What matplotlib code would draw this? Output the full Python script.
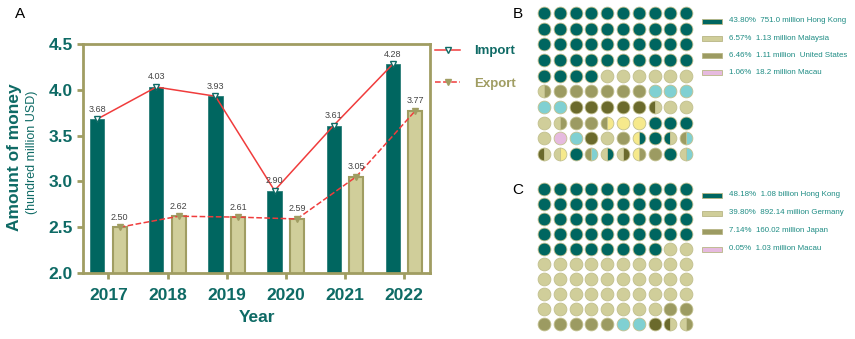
import matplotlib
matplotlib.use("Agg")
import matplotlib.pyplot as plt
import numpy as np
from matplotlib.patches import Rectangle

plt.rcParams["font.family"] = ["Liberation Sans", "DejaVu Sans"]

# data
years = ["2017", "2018", "2019", "2020", "2021", "2022"]
imports = [3.68, 4.03, 3.93, 2.90, 3.61, 4.28]
exports = [2.50, 2.62, 2.61, 2.59, 3.05, 3.77]

# waffle grids: one code per circle, "A|B" = left half A, right half B
grid_b = [
    "T T T T T T T T T T",
    "T T T T T T T T T T",
    "T T T T T T T T T T",
    "T T T T T T T T T T",
    "T T T T K K K K K K",
    "K|O O O O O O O C C C",
    "C C D D D D D D|K K K",
    "K K|O O O O|Y Y Y T T T",
    "K P C D K O Y|T T T|K O|C",
    "D|K K|Y T O|C K|T K|D Y|O O T K|C",
]
grid_c = [
    "T T T T T T T T T T",
    "T T T T T T T T T T",
    "T T T T T T T T T T",
    "T T T T T T T T T T",
    "T T T T T T T T K K",
    "K K K K K K K K K K",
    "K K K K K K K K K K",
    "K K K K K K K K K K",
    "K K K K K K K K O O",
    "O O O O O C C D D|K K|O",
]
legend_b = ["43.80%  751.0 million Hong Kong", "6.57%  1.13 million Malaysia",
            "6.46%  1.11 million  United States", "1.06%  18.2 million Macau"]
legend_c = ["48.18%  1.08 billion Hong Kong", "39.80%  892.14 million Germany",
            "7.14%  160.02 million Japan", "0.05%  1.03 million Macau"]
legend_codes = ["T", "K", "O", "P"]

colors = {
    "T": "#006660", "K": "#D0CE9A", "O": "#9C9B62", "D": "#6B6A2C",
    "C": "#80D0D2", "Y": "#F6E98C", "P": "#E6BADF",
}
teal = "#0E6A65"
olive = "#A09D62"
red = "#F03C3C"
text_teal = "#1E8C84"

fig = plt.figure(figsize=(8.55, 3.39), dpi=100)

# ---- panel A
ax = fig.add_axes([83 / 855, 66 / 339, 347 / 855, 229 / 339])
x = np.arange(len(years))
w = 0.24
off = 0.19
ax.bar(x - off, imports, width=w, color=colors["T"], edgecolor="#2A7D77", linewidth=0.6, zorder=2)
ax.bar(x + off, exports, width=w, color=colors["K"], edgecolor=olive, linewidth=1.5, zorder=2)
ax.plot(x - off, imports, "-", color=red, lw=1.1, marker="v", ms=4.5,
        mfc="white", mec=teal, mew=1, zorder=3, label="Import")
ax.plot(x + off, exports, "--", color=red, lw=1.1, marker="v", ms=4.5,
        mfc=olive, mec=olive, mew=1, zorder=3, label="Export")
for xi, v in zip(x - off, imports):
    ax.annotate(f"{v:.2f}", (xi, v), xytext=(0, 4), textcoords="offset points",
                ha="center", va="bottom", fontsize=6.5, color="#444444")
for xi, v in zip(x + off, exports):
    ax.annotate(f"{v:.2f}", (xi, v), xytext=(0, 4), textcoords="offset points",
                ha="center", va="bottom", fontsize=6.5, color="#444444")

ax.set_ylim(2.0, 4.5)
ax.set_xlim(-0.43, 5.44)
ax.set_yticks([2.0, 2.5, 3.0, 3.5, 4.0, 4.5])
ax.set_yticklabels([f"{t:.1f}" for t in ax.get_yticks()])
ax.set_xticks(x)
ax.set_xticklabels(years)
for s in ax.spines.values():
    s.set_color(olive)
    s.set_linewidth(2)
ax.tick_params(axis="both", colors=olive, width=2, length=4.5, labelcolor=teal,
               labelsize=12.5)
ax.tick_params(axis="y", pad=3)
ax.tick_params(axis="x", pad=6)
for lab in ax.get_xticklabels() + ax.get_yticklabels():
    lab.set_fontweight("bold")

fig.text(257 / 855, 1 - 318 / 339, "Year", ha="center", va="center",
         fontsize=12.5, fontweight="bold", color=teal)
fig.text(15 / 855, 1 - 157 / 339, "Amount of money", rotation=90, ha="center",
         va="center", fontsize=12.5, fontweight="bold", color=teal)
fig.text(32 / 855, 1 - 152 / 339, "(hundred million USD)", rotation=90,
         ha="center", va="center", fontsize=9, color=teal)

leg = ax.legend(loc="upper left", bbox_to_anchor=(435 / 855, 1 - 45 / 339),
                bbox_transform=fig.transFigure, frameon=False, fontsize=9.5,
                handlelength=1.9, labelspacing=1.55, borderpad=0, borderaxespad=0,
                handletextpad=1.1)
for t, c in zip(leg.get_texts(), [teal, olive]):
    t.set_color(c)
    t.set_fontweight("bold")

fig.text(20 / 855, 1 - 14 / 339, "A", ha="center", va="center", fontsize=11)
fig.text(518 / 855, 1 - 14 / 339, "B", ha="center", va="center", fontsize=11)
fig.text(518 / 855, 1 - 190 / 339, "C", ha="center", va="center", fontsize=11)


# ---- panels B and C
def waffle(rect, grid):
    wax = fig.add_axes(rect)
    for r, row in enumerate(grid):
        for c, code in enumerate(row.split()):
            if "|" in code:
                left, right = code.split("|")
                wax.plot(c, r, "o", ms=9.2, fillstyle="left", mfc=colors[left],
                         mfcalt=colors[right], mec="#C2C08E", mew=0.6)
            else:
                wax.plot(c, r, "o", ms=9.2, mfc=colors[code], mec="#C2C08E", mew=0.6)
    wax.set_xlim(-0.5, 9.5)
    wax.set_ylim(9.5, -0.5)
    wax.axis("off")
    return wax


waffle([536 / 855, 1 - 162 / 339, 158 / 855, 157 / 339], grid_b)
waffle([536 / 855, 1 - 331.5 / 339, 158 / 855, 150 / 339], grid_c)


def side_legend(labels, y0, dy):
    for i, (lab, code) in enumerate(zip(labels, legend_codes)):
        yc = y0 + i * dy
        fig.patches.append(Rectangle((702 / 855, 1 - (yc + 2.5) / 339), 20 / 855, 5 / 339,
                                     transform=fig.transFigure, facecolor=colors[code],
                                     edgecolor="#B8B685", lw=0.6))
        fig.text(729 / 855, 1 - yc / 339, lab, ha="left", va="center",
                 fontsize=5.7, color=text_teal)


side_legend(legend_b, 21, 17.3)
side_legend(legend_c, 195, 18)

fig.savefig("out.png", dpi=100)
